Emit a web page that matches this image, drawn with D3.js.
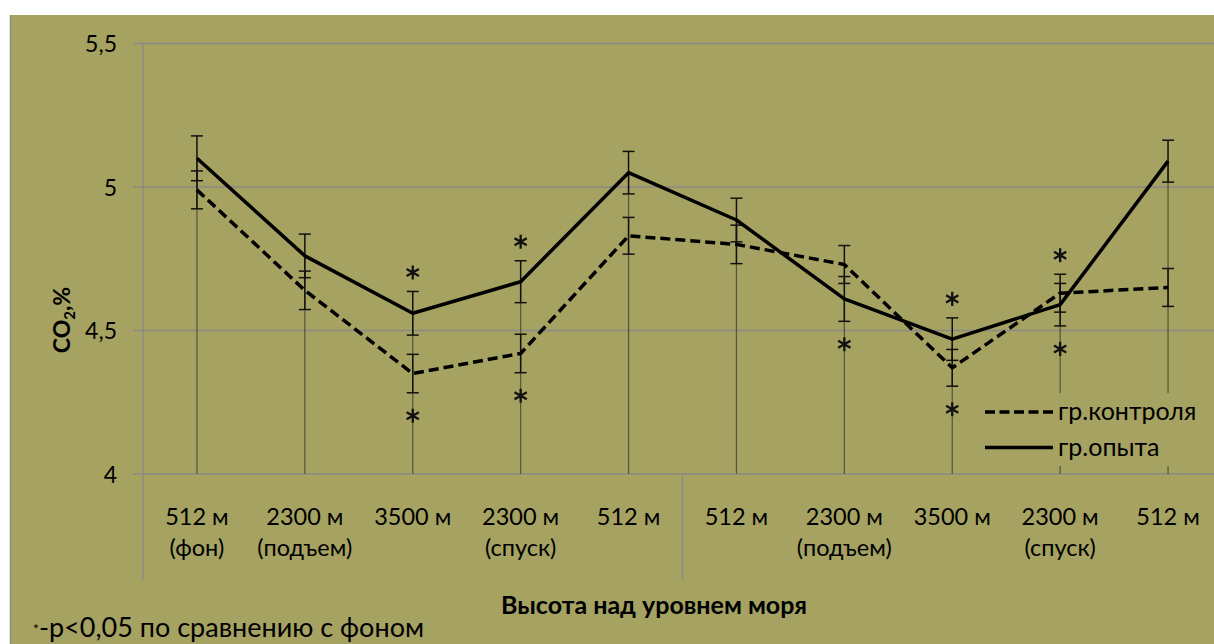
<!DOCTYPE html>
<html>
<head>
<meta charset="utf-8">
<script src="https://cdn.jsdelivr.net/npm/d3@7"></script>
<style>
  html, body { margin: 0; padding: 0; background: #ffffff; }
  svg { display: block; }
  text { font-family: Lato, "Noto Sans", sans-serif; fill: #000; }
</style>
</head>
<body>
<svg id="chart" width="1214" height="644"></svg>
<script>
// Altitude stages (two expeditions of five stages each)
const categories = ["c1", "c2", "c3", "c4", "c5", "c6", "c7", "c8", "c9", "c10"];
const labelTop = ["512 м", "2300 м", "3500 м", "2300 м", "512 м", "512 м", "2300 м", "3500 м", "2300 м", "512 м"];
const labelBottom = ["(фон)", "(подъем)", "", "(спуск)", "", "", "(подъем)", "", "(спуск)", ""];

// CO2, % — control group (dashed) and experimental group (solid)
const controlValues = [4.99, 4.64, 4.35, 4.42, 4.83, 4.80, 4.73, 4.37, 4.63, 4.65];
const controlErrors = [0.066, 0.067, 0.067, 0.067, 0.064, 0.067, 0.066, 0.064, 0.066, 0.066];
const experimentValues = [5.10, 4.76, 4.56, 4.67, 5.05, 4.885, 4.61, 4.47, 4.59, 5.09];
const experimentErrors = [0.078, 0.076, 0.076, 0.073, 0.074, 0.076, 0.078, 0.074, 0.074, 0.073];

// Significance markers (p<0.05 vs baseline): above the upper bar / below the lower bar
const sigAbove = [0, 0, 1, 1, 0, 0, 0, 1, 1, 0];
const sigBelow = [0, 0, 1, 1, 0, 0, 1, 1, 1, 0];

const yTicks = [4, 4.5, 5, 5.5];
const groupStarts = [0, 5];

const seriesNames = ["гр.контроля", "гр.опыта"];

const BG = "#a5a262";
const GRID = "#8a8a86";

const svg = d3.select("#chart");

// chart area
svg.append("rect").attr("x", 10).attr("y", 15).attr("width", 1300).attr("height", 700).attr("fill", BG);
svg.append("line").attr("x1", 10.5).attr("x2", 10.5).attr("y1", 15).attr("y2", 644)
  .attr("stroke", GRID).attr("stroke-width", 1.5);

const x = d3.scaleBand().domain(categories).range([143, 1222]).padding(0);
const y = d3.scaleLinear().domain([4, 5.5]).range([474, 43.5]);
const cx = c => x(c) + x.bandwidth() / 2;

// horizontal gridlines
svg.append("g").selectAll("line").data(yTicks).join("line")
  .attr("x1", 133).attr("x2", 1222)
  .attr("y1", d => y(d)).attr("y2", d => y(d))
  .attr("stroke", GRID).attr("stroke-width", 1.3);

// value axis labels
const yAxis = d3.axisLeft(y).tickValues(yTicks).tickSize(0).tickPadding(26)
  .tickFormat(d => String(d).replace(".", ","));
const yg = svg.append("g").attr("transform", "translate(143,0)").call(yAxis);
yg.select(".domain").remove();
yg.selectAll("text").attr("font-size", 23).attr("font-family", "Lato, sans-serif").attr("dy", "0.36em").attr("fill", "#000");

// vertical axis line and group separators in the category area
svg.append("line").attr("x1", 143).attr("x2", 143).attr("y1", y(5.5)).attr("y2", 580)
  .attr("stroke", GRID).attr("stroke-width", 1.3);
svg.append("g").selectAll("line").data(groupStarts.slice(1)).join("line")
  .attr("x1", d => x(categories[d])).attr("x2", d => x(categories[d]))
  .attr("y1", y(4)).attr("y2", 580)
  .attr("stroke", GRID).attr("stroke-width", 1.3);

// drop lines from the higher point to the axis
svg.append("g").selectAll("line").data(categories).join("line")
  .attr("x1", d => cx(d)).attr("x2", d => cx(d))
  .attr("y1", (d, i) => y(Math.max(controlValues[i], experimentValues[i])))
  .attr("y2", y(4))
  .attr("stroke", "#55553a").attr("stroke-width", 1.2);

// category labels
const xAxis = d3.axisBottom(x).tickSize(0).tickPadding(0).tickFormat(() => "");
const xg = svg.append("g").attr("transform", `translate(0,${y(4)})`).call(xAxis);
xg.select(".domain").remove();
xg.selectAll(".tick text").remove();
xg.selectAll(".tick").each(function (d, i) {
  const t = d3.select(this).append("text").attr("text-anchor", "middle")
    .attr("font-size", 23.5).attr("font-family", "Lato, sans-serif").attr("fill", "#000");
  t.append("tspan").attr("x", 0).attr("y", 51).text(labelTop[i]);
  if (labelBottom[i]) t.append("tspan").attr("x", 0).attr("y", 82).text(labelBottom[i]);
});

// error bars
function errorBars(values, errors) {
  const g = svg.append("g").attr("stroke", "#111").attr("stroke-width", 1.5);
  categories.forEach((c, i) => {
    const xc = cx(c), top = y(values[i] + errors[i]), bot = y(values[i] - errors[i]);
    g.append("line").attr("x1", xc).attr("x2", xc).attr("y1", top).attr("y2", bot);
    g.append("line").attr("x1", xc - 6).attr("x2", xc + 6).attr("y1", top).attr("y2", top);
    g.append("line").attr("x1", xc - 6).attr("x2", xc + 6).attr("y1", bot).attr("y2", bot);
  });
}
errorBars(controlValues, controlErrors);
errorBars(experimentValues, experimentErrors);

// series lines
const line = d3.line().x((d, i) => cx(categories[i])).y(d => y(d));
svg.append("path").datum(controlValues).attr("d", line)
  .attr("fill", "none").attr("stroke", "#000").attr("stroke-width", 3.5)
  .attr("stroke-dasharray", "10,5").attr("stroke-linejoin", "round");
svg.append("path").datum(experimentValues).attr("d", line)
  .attr("fill", "none").attr("stroke", "#000").attr("stroke-width", 3.5)
  .attr("stroke-linejoin", "round");

// significance asterisks
const star = d3.symbol().type(d3.symbolAsterisk).size(140);
categories.forEach((c, i) => {
  const hi = Math.max(controlValues[i] + controlErrors[i], experimentValues[i] + experimentErrors[i]);
  const lo = Math.min(controlValues[i] - controlErrors[i], experimentValues[i] - experimentErrors[i]);
  if (sigAbove[i]) svg.append("path").attr("d", star())
    .attr("transform", `translate(${cx(c)},${y(hi) - 19})`)
    .attr("fill", "none").attr("stroke", "#111").attr("stroke-width", 2.3);
  if (sigBelow[i]) svg.append("path").attr("d", star())
    .attr("transform", `translate(${cx(c)},${y(lo) + 23})`)
    .attr("fill", "none").attr("stroke", "#111").attr("stroke-width", 2.3);
});

// legend
const lg = svg.append("g").attr("transform", "translate(978,393)");
lg.append("rect").attr("width", 228).attr("height", 73).attr("fill", BG);
[0, 1].forEach(k => {
  const yy = 19 + k * 35.5;
  lg.append("line").attr("x1", 7).attr("x2", 75).attr("y1", yy).attr("y2", yy)
    .attr("stroke", "#000").attr("stroke-width", 3.5)
    .attr("stroke-dasharray", k === 0 ? "10,4.5" : null);
  lg.append("text").attr("x", 80).attr("y", yy).attr("dy", "0.33em")
    .attr("font-size", 25).text(seriesNames[k]);
});

// axis titles
svg.append("text").attr("x", 654).attr("y", 614).attr("text-anchor", "middle")
  .attr("font-size", 25).attr("font-weight", "bold").text("Высота над уровнем моря");

const yt = svg.append("text").attr("transform", "translate(70,320) rotate(-90)")
  .attr("text-anchor", "middle").attr("font-size", 23).attr("font-weight", "bold");
yt.append("tspan").text("CO");
yt.append("tspan").attr("font-size", 15).attr("dy", 5).text("2");
yt.append("tspan").attr("dy", -5).text(",%");

// footnote
const fn = svg.append("text").attr("x", 33).attr("y", 637).attr("font-size", 27);
fn.append("tspan").attr("font-size", 14).attr("dy", -3).text("*");
fn.append("tspan").attr("dy", 3).text("-р<0,05 по сравнению с фоном");
</script>
</body>
</html>
